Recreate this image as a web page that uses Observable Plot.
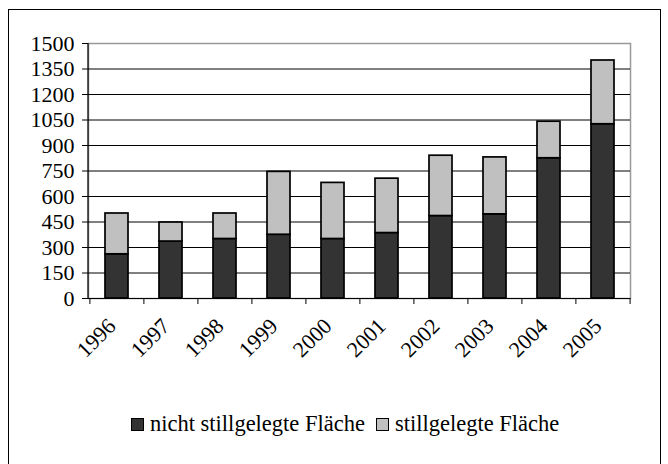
<!DOCTYPE html>
<html>
<head>
<meta charset="utf-8">
<script src="https://cdn.jsdelivr.net/npm/d3@7"></script>
<script src="https://cdn.jsdelivr.net/npm/@observablehq/plot@0.6"></script>
<style>
  html, body { margin: 0; padding: 0; background: #fff; }
  #wrap { position: relative; width: 668px; height: 464px; overflow: hidden; font-family: "Liberation Serif", Tinos, "DejaVu Serif", serif; }
  #frame { position: absolute; left: 8px; top: 9px; width: 653px; height: 470px; border: 1.5px solid #000; box-sizing: border-box; }
  #chart { position: absolute; left: 0; top: 0; }
  #legend { position: absolute; top: 411px; left: 131px; display: flex; align-items: center; font-size: 22.5px; color: #000; white-space: nowrap; }
  .sw { display: inline-block; width: 11px; height: 11px; border: 1.5px solid #000; margin-right: 6px; }
  .item { display: flex; align-items: center; margin-right: 11px; }
  #chart text { font-family: "Liberation Serif", Tinos, "DejaVu Serif", serif; }
</style>
</head>
<body>
<div id="wrap">
  <div id="frame"></div>
  <div id="chart"></div>
  <div id="legend"></div>
</div>
<script>
const years = ["1996","1997","1998","1999","2000","2001","2002","2003","2004","2005"];
const nichtStillgelegt = [260, 335, 350, 375, 350, 385, 485, 495, 825, 1025];
const stillgelegt = [240, 112, 150, 370, 330, 320, 355, 335, 215, 375];
const seriesNames = ["nicht stillgelegte Fläche", "stillgelegte Fläche"];
const seriesColors = ["#333333", "#c0c0c0"];
const yTicks = [0, 150, 300, 450, 600, 750, 900, 1050, 1200, 1350, 1500];

const data = [];
years.forEach((y, i) => {
  data.push({year: y, series: seriesNames[0], value: nichtStillgelegt[i]});
  data.push({year: y, series: seriesNames[1], value: stillgelegt[i]});
});

const W = 668, H = 390, mL = 88, mR = 38, mT = 43, mB = 92;
const step = (W - mL - mR) / years.length;
const font = "Liberation Serif";

const chart = Plot.plot({
  width: W, height: H,
  marginLeft: mL, marginRight: mR, marginTop: mT, marginBottom: mB,
  style: {fontFamily: font, background: "transparent", color: "#000"},
  x: {type: "band", domain: years, paddingInner: 0.575, paddingOuter: 0.2875, axis: null},
  y: {domain: [0, 1500], axis: null},
  color: {domain: seriesNames, range: seriesColors},
  marks: [
    Plot.frame({stroke: "#999", strokeWidth: 1.5}),
    Plot.ruleY(yTicks.filter(t => t > 0 && t < 1500), {stroke: "#000", strokeWidth: 1}),
    Plot.barY(data, {x: "year", y: "value", fill: "series", stroke: "#000", strokeWidth: 1.7, order: seriesNames}),
    Plot.ruleY([0], {stroke: "#000", strokeWidth: 1.2}),
    Plot.axisY({ticks: yTicks, tickSize: 6, tickPadding: 8, fontSize: 22, fill: "#000", stroke: "#000", label: null, tickFormat: d => String(d)}),
    Plot.ruleX(years, {x: d => d, y1: 0, y2: 0, insetBottom: -6, dx: -step / 2, stroke: "#000"}),
    Plot.ruleX([years[years.length - 1]], {x: d => d, y1: 0, y2: 0, insetBottom: -6, dx: step / 2, stroke: "#000"}),
    Plot.text(years, {x: d => d, y: 0, text: d => d, rotate: -45, textAnchor: "end", dx: -5, dy: 24, fontSize: 22, fill: "#000"})
  ]
});
document.getElementById("chart").appendChild(chart);
const svg = d3.select(chart);
svg.append("line").attr("x1", mL).attr("x2", mL).attr("y1", mT).attr("y2", H - mB).attr("stroke", "#000").attr("stroke-width", 1.2);

const legend = document.getElementById("legend");
seriesNames.forEach((n, i) => {
  const it = document.createElement("span");
  it.className = "item";
  const sw = document.createElement("span");
  sw.className = "sw";
  sw.style.background = seriesColors[i];
  it.appendChild(sw);
  it.appendChild(document.createTextNode(n));
  legend.appendChild(it);
});
</script>
</body>
</html>
